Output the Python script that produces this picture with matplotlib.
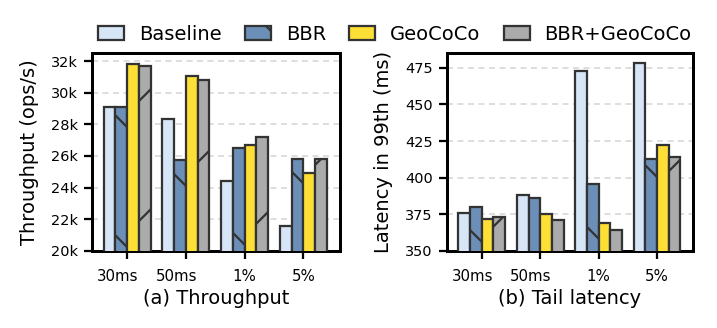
import numpy as np
import matplotlib
matplotlib.use("Agg")
import matplotlib.pyplot as plt
import matplotlib.transforms as mtransforms
from matplotlib.ticker import FuncFormatter

# data
groups = ["30ms", "50ms", "1%", "5%"]
series = ["Baseline", "BBR", "GeoCoCo", "BBR+GeoCoCo"]
throughput_baseline = [29100, 28350, 24450, 21550]
throughput_bbr = [29100, 25750, 26480, 25800]
throughput_geococo = [31800, 31080, 26700, 24900]
throughput_both = [31700, 30800, 27200, 25800]
latency_baseline = [376, 388, 473, 478]
latency_bbr = [380, 386, 396, 413]
latency_geococo = [372, 375, 369, 422]
latency_both = [373, 371, 364, 414]

colors = ["#d6e6f7", "#6c8fb8", "#fedf35", "#ababab"]
hatches = ["", "\\", "", "/"]
edge = "#333333"

dpi = 360
plt.rcParams["hatch.linewidth"] = 0.45
plt.rcParams["hatch.color"] = edge

fig = plt.figure(figsize=(717 / dpi, 328 / dpi), dpi=dpi)
ax1 = fig.add_axes([0.128, 0.235, 0.346, 0.603])
ax2 = fig.add_axes([0.623, 0.235, 0.344, 0.603])

x = np.arange(len(groups))
w = 0.2
offsets = [-1.5 * w, -0.5 * w, 0.5 * w, 1.5 * w]


def draw(ax, data, ylim, yticks, ylabel, xlabel, fmt=None):
    handles = []
    for i, vals in enumerate(data):
        b = ax.bar(x + offsets[i], vals, w, color=colors[i], edgecolor=edge,
                   linewidth=0.45, hatch=hatches[i], label=series[i], zorder=3)
        handles.append(b)
    ax.set_ylim(*ylim)
    ax.set_yticks(yticks)
    if fmt:
        ax.yaxis.set_major_formatter(FuncFormatter(fmt))
    ax.set_xticks(x)
    ax.set_xticklabels(groups)
    ax.set_xlim(-0.6, 3.62)
    ax.grid(axis="y", linestyle=(0, (4, 3)), color="#d4d4d4", linewidth=0.3, zorder=0)
    ax.set_ylabel(ylabel, fontsize=3.9, labelpad=2.3)
    ax.set_xlabel(xlabel, fontsize=3.9, labelpad=1.0)
    ax.tick_params(axis="y", labelsize=2.9, length=1.6, width=0.45, pad=1.2)
    ax.tick_params(axis="x", labelsize=3.0, length=1.6, width=0.45, pad=2.0)
    for s in ax.spines.values():
        s.set_linewidth(0.6)
    # first two group labels sit a bit left of their ticks in the reference
    for lab in ax.get_xticklabels()[:2]:
        lab.set_transform(lab.get_transform() +
                          mtransforms.ScaledTranslation(-9.5 / dpi, 0, fig.dpi_scale_trans))
    return handles


h = draw(ax1, [throughput_baseline, throughput_bbr, throughput_geococo, throughput_both],
         (20000, 32500), np.arange(20000, 32001, 2000), "Throughput (ops/s)",
         "(a) Throughput", fmt=lambda v, p: "%dk" % (v / 1000))
draw(ax2, [latency_baseline, latency_bbr, latency_geococo, latency_both],
     (350, 485), np.arange(350, 476, 25), "Latency in 99th (ms)", "(b) Tail latency")

fig.legend(h, series, loc="center", bbox_to_anchor=(0.551, 0.895), ncol=4, frameon=False,
           fontsize=3.9, handlelength=1.33, handleheight=0.72, columnspacing=1.18,
           handletextpad=0.77, borderaxespad=0)

fig.savefig("out.png", dpi=dpi)
